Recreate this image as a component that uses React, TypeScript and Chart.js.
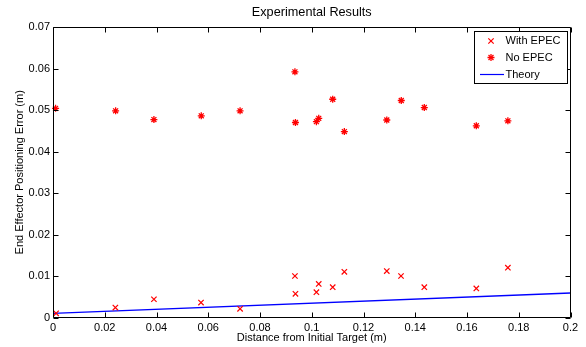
import React, { useEffect, useRef } from "react";
import { Chart, registerables } from "chart.js";

Chart.register(...registerables);

const chartTitle = "Experimental Results";
const xAxisTitle = "Distance from Initial Target (m)";
const yAxisTitle = "End Effector Positioning Error (m)";

const seriesNames = ["With EPEC", "No EPEC", "Theory"];

const withEpecX = [0.0012, 0.0241, 0.039, 0.0572, 0.0723, 0.0935, 0.0937, 0.1018, 0.1027, 0.1081, 0.1126, 0.129, 0.1345, 0.1435, 0.1636, 0.1758];
const withEpecY = [0.001, 0.0024, 0.0044, 0.0036, 0.0021, 0.01, 0.0057, 0.0061, 0.0081, 0.0073, 0.011, 0.0112, 0.01, 0.0073, 0.007, 0.012];

const noEpecX = [0.001, 0.0242, 0.039, 0.0573, 0.0723, 0.0935, 0.0937, 0.1018, 0.1027, 0.1081, 0.1126, 0.129, 0.1346, 0.1435, 0.1636, 0.1758];
const noEpecY = [0.0504, 0.0498, 0.0477, 0.0486, 0.0498, 0.0592, 0.047, 0.0472, 0.048, 0.0526, 0.0448, 0.0476, 0.0523, 0.0506, 0.0462, 0.0474];

const theoryX = [0, 0.2];
const theoryY = [0.001, 0.0059];

const xTicks = [0, 0.02, 0.04, 0.06, 0.08, 0.1, 0.12, 0.14, 0.16, 0.18, 0.2];
const yTicks = [0, 0.01, 0.02, 0.03, 0.04, 0.05, 0.06, 0.07];

const FONT = "'Liberation Sans', Arial, Helvetica, sans-serif";
const RED = "#ff0000";
const BLUE = "#0000ff";

const zip = (xs: number[], ys: number[]) => xs.map((x, i) => ({ x, y: ys[i] }));
const fmt = (v: number) => String(Number(v.toFixed(3)));

function drawCrossRot(ctx: CanvasRenderingContext2D, x: number, y: number, r: number) {
  const o = r * Math.SQRT1_2;
  ctx.beginPath();
  ctx.moveTo(x - o, y - o);
  ctx.lineTo(x + o, y + o);
  ctx.moveTo(x - o, y + o);
  ctx.lineTo(x + o, y - o);
  ctx.stroke();
}
function drawStar(ctx: CanvasRenderingContext2D, x: number, y: number, r: number) {
  drawCrossRot(ctx, x, y, r);
  ctx.beginPath();
  ctx.moveTo(x - r, y);
  ctx.lineTo(x + r, y);
  ctx.moveTo(x, y - r);
  ctx.lineTo(x, y + r);
  ctx.stroke();
}

const framePlugin = {
  id: "matlabFrame",
  afterDatasetsDraw(chart: any) {
    const { ctx, chartArea, scales } = chart;
    const { left, right, top, bottom } = chartArea;
    const xs = scales.x;
    const ys = scales.y;
    const tl = 5;
    ctx.save();
    ctx.strokeStyle = "#000";
    ctx.lineWidth = 1;
    const L = Math.round(left) + 0.5;
    const R = Math.round(right) - 0.5;
    const T = Math.round(top) + 0.5;
    const B = Math.round(bottom) - 0.5;
    ctx.beginPath();
    ctx.rect(L, T, R - L, B - T);
    ctx.stroke();
    ctx.beginPath();
    xTicks.forEach((v) => {
      const px = Math.round(xs.getPixelForValue(v)) + 0.5;
      ctx.moveTo(px, B);
      ctx.lineTo(px, B - tl);
      ctx.moveTo(px, T);
      ctx.lineTo(px, T + tl);
    });
    yTicks.forEach((v) => {
      const py = Math.round(ys.getPixelForValue(v)) + 0.5;
      ctx.moveTo(L, py);
      ctx.lineTo(L + tl, py);
      ctx.moveTo(R, py);
      ctx.lineTo(R - tl, py);
    });
    ctx.stroke();

    // legend
    const bx = 474.5, by = 31.5, bw = 93, bh = 52;
    ctx.fillStyle = "#fff";
    ctx.fillRect(bx, by, bw, bh);
    ctx.strokeStyle = "#000";
    ctx.lineWidth = 1;
    ctx.strokeRect(bx, by, bw, bh);
    const rowY = [41, 57.5, 74.5];
    const mx = 491;
    ctx.lineWidth = 1.2;
    ctx.strokeStyle = RED;
    drawCrossRot(ctx, mx, rowY[0], 3.8);
    ctx.lineWidth = 1.3;
    drawStar(ctx, mx, rowY[1], 3.5);
    ctx.strokeStyle = BLUE;
    ctx.lineWidth = 1.2;
    ctx.beginPath();
    ctx.moveTo(480, rowY[2]);
    ctx.lineTo(504, rowY[2]);
    ctx.stroke();
    ctx.fillStyle = "#000";
    ctx.font = `11px ${FONT}`;
    ctx.textBaseline = "middle";
    ctx.textAlign = "left";
    seriesNames.forEach((n, i) => ctx.fillText(n, 505.5, rowY[i]));
    ctx.restore();
  },
};

export default function App() {
  const ref = useRef<HTMLCanvasElement | null>(null);
  useEffect(() => {
    if (!ref.current) return;
    const chart = new Chart(ref.current, {
      type: "scatter",
      data: {
        datasets: [
          {
            label: seriesNames[0],
            data: zip(withEpecX, withEpecY),
            pointStyle: "crossRot",
            pointRadius: 3.8,
            pointBorderWidth: 1.2,
            borderColor: RED,
            backgroundColor: RED,
            clip: false,
          } as any,
          {
            label: seriesNames[1],
            data: zip(noEpecX, noEpecY),
            pointStyle: "star",
            pointRadius: 3.5,
            pointBorderWidth: 1.3,
            borderColor: RED,
            backgroundColor: RED,
            clip: false,
          },
          {
            label: seriesNames[2],
            data: zip(theoryX, theoryY),
            showLine: true,
            pointRadius: 0,
            borderColor: BLUE,
            borderWidth: 1.3,
            backgroundColor: BLUE,
          },
        ],
      },
      options: {
        responsive: false,
        animation: false,
        devicePixelRatio: 1,
        layout: { padding: { left: 0, right: 15.5, top: 0, bottom: 0 } },
        plugins: {
          legend: { display: false },
          tooltip: { enabled: false },
          title: {
            display: true,
            text: chartTitle,
            color: "#000",
            fullSize: false,
            font: { family: FONT, size: 12.7, weight: "normal" },
            padding: { top: 4.4, bottom: 7.4 },
          },
        },
        scales: {
          x: {
            type: "linear",
            min: 0,
            max: 0.2,
            afterBuildTicks: (s: any) => {
              s.ticks = xTicks.map((v) => ({ value: v }));
            },
            afterFit: (s: any) => {
              s.height = 29.5;
            },
            grid: { display: false, drawTicks: false },
            border: { display: false },
            ticks: {
              color: "#000",
              padding: 4,
              maxRotation: 0,
              autoSkip: false,
              font: { family: FONT, size: 11 },
              callback: (v: any) => fmt(Number(v)),
            },
            title: {
              display: true,
              text: xAxisTitle,
              color: "#000",
              font: { family: FONT, size: 11 },
              padding: { top: 0, bottom: 2.4 },
            },
          },
          y: {
            type: "linear",
            min: 0,
            max: 0.07,
            afterBuildTicks: (s: any) => {
              s.ticks = yTicks.map((v) => ({ value: v }));
            },
            afterFit: (s: any) => {
              s.width = 53;
            },
            grid: { display: false, drawTicks: false },
            border: { display: false },
            ticks: {
              color: "#000",
              padding: 3,
              autoSkip: false,
              font: { family: FONT, size: 11 },
              callback: (v: any) => fmt(Number(v)),
            },
            title: {
              display: true,
              text: yAxisTitle,
              color: "#000",
              font: { family: FONT, size: 11 },
              padding: { top: 13.4, bottom: 0 },
            },
          },
        },
      },
      plugins: [framePlugin],
    });
    return () => chart.destroy();
  }, []);
  return (
    <div style={{ position: "fixed", left: 0, top: 0, width: 586, height: 347, background: "#fff" }}>
      <canvas ref={ref} width={586} height={347} style={{ display: "block" }} />
    </div>
  );
}
